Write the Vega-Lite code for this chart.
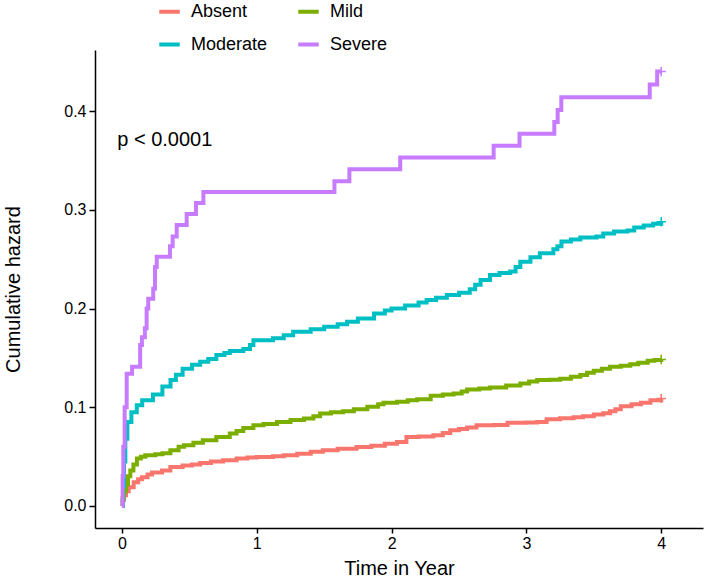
{
  "$schema": "https://vega.github.io/schema/vega-lite/v6.json",
  "width": 608,
  "height": 478,
  "autosize": "none",
  "padding": {"left": 95, "top": 50, "right": 5, "bottom": 55},
  "background": "white",
  "config": {
    "view": {"stroke": null},
    "font": "Liberation Sans",
    "axis": {"grid": false, "domainColor": "black", "domainWidth": 1.5, "tickColor": "black", "tickWidth": 1.5, "tickSize": 6, "labelColor": "black", "labelFontSize": 16, "titleFontSize": 20, "titleFontWeight": "normal", "titleColor": "black", "labelFont": "Liberation Sans", "titleFont": "Liberation Sans"}
  },
  "datasets": {
    "curves": [
      {"group":"Absent","time":0,"hazard":0},{"group":"Absent","time":0.005,"hazard":0.006},{"group":"Absent","time":0.015,"hazard":0.011},{"group":"Absent","time":0.03,"hazard":0.015},{"group":"Absent","time":0.05,"hazard":0.019},{"group":"Absent","time":0.087,"hazard":0.024},{"group":"Absent","time":0.12,"hazard":0.027},{"group":"Absent","time":0.148,"hazard":0.029},{"group":"Absent","time":0.19,"hazard":0.032},{"group":"Absent","time":0.223,"hazard":0.034},{"group":"Absent","time":0.297,"hazard":0.036},{"group":"Absent","time":0.359,"hazard":0.0396},{"group":"Absent","time":0.45,"hazard":0.041},{"group":"Absent","time":0.52,"hazard":0.042},{"group":"Absent","time":0.58,"hazard":0.0436},{"group":"Absent","time":0.66,"hazard":0.045},{"group":"Absent","time":0.75,"hazard":0.0463},{"group":"Absent","time":0.85,"hazard":0.048},{"group":"Absent","time":0.93,"hazard":0.049},{"group":"Absent","time":1.0,"hazard":0.0495},{"group":"Absent","time":1.12,"hazard":0.0504},{"group":"Absent","time":1.2,"hazard":0.0515},{"group":"Absent","time":1.3,"hazard":0.053},{"group":"Absent","time":1.4,"hazard":0.055},{"group":"Absent","time":1.49,"hazard":0.0565},{"group":"Absent","time":1.6,"hazard":0.058},{"group":"Absent","time":1.74,"hazard":0.0598},{"group":"Absent","time":1.85,"hazard":0.061},{"group":"Absent","time":1.95,"hazard":0.063},{"group":"Absent","time":2.04,"hazard":0.0649},{"group":"Absent","time":2.11,"hazard":0.07},{"group":"Absent","time":2.2,"hazard":0.0705},{"group":"Absent","time":2.31,"hazard":0.0717},{"group":"Absent","time":2.38,"hazard":0.074},{"group":"Absent","time":2.435,"hazard":0.0768},{"group":"Absent","time":2.5,"hazard":0.078},{"group":"Absent","time":2.56,"hazard":0.0795},{"group":"Absent","time":2.63,"hazard":0.0818},{"group":"Absent","time":2.76,"hazard":0.082},{"group":"Absent","time":2.86,"hazard":0.0842},{"group":"Absent","time":3.0,"hazard":0.0845},{"group":"Absent","time":3.08,"hazard":0.085},{"group":"Absent","time":3.15,"hazard":0.0879},{"group":"Absent","time":3.25,"hazard":0.089},{"group":"Absent","time":3.35,"hazard":0.09},{"group":"Absent","time":3.42,"hazard":0.091},{"group":"Absent","time":3.5,"hazard":0.0927},{"group":"Absent","time":3.57,"hazard":0.094},{"group":"Absent","time":3.62,"hazard":0.096},{"group":"Absent","time":3.66,"hazard":0.098},{"group":"Absent","time":3.7,"hazard":0.101},{"group":"Absent","time":3.78,"hazard":0.103},{"group":"Absent","time":3.85,"hazard":0.1045},{"group":"Absent","time":3.92,"hazard":0.107},{"group":"Absent","time":4.0,"hazard":0.109},

      {"group":"Mild","time":0,"hazard":0},{"group":"Mild","time":0.005,"hazard":0.008},{"group":"Mild","time":0.015,"hazard":0.015},{"group":"Mild","time":0.03,"hazard":0.022},{"group":"Mild","time":0.045,"hazard":0.03},{"group":"Mild","time":0.062,"hazard":0.036},{"group":"Mild","time":0.085,"hazard":0.042},{"group":"Mild","time":0.111,"hazard":0.048},{"group":"Mild","time":0.14,"hazard":0.05},{"group":"Mild","time":0.173,"hazard":0.0514},{"group":"Mild","time":0.247,"hazard":0.0524},{"group":"Mild","time":0.3,"hazard":0.0535},{"group":"Mild","time":0.359,"hazard":0.0565},{"group":"Mild","time":0.42,"hazard":0.06},{"group":"Mild","time":0.46,"hazard":0.0616},{"group":"Mild","time":0.53,"hazard":0.064},{"group":"Mild","time":0.6,"hazard":0.0666},{"group":"Mild","time":0.7,"hazard":0.07},{"group":"Mild","time":0.8,"hazard":0.0734},{"group":"Mild","time":0.85,"hazard":0.076},{"group":"Mild","time":0.9,"hazard":0.079},{"group":"Mild","time":0.975,"hazard":0.0818},{"group":"Mild","time":1.05,"hazard":0.083},{"group":"Mild","time":1.15,"hazard":0.085},{"group":"Mild","time":1.25,"hazard":0.087},{"group":"Mild","time":1.35,"hazard":0.0886},{"group":"Mild","time":1.42,"hazard":0.091},{"group":"Mild","time":1.47,"hazard":0.0937},{"group":"Mild","time":1.55,"hazard":0.095},{"group":"Mild","time":1.64,"hazard":0.096},{"group":"Mild","time":1.72,"hazard":0.098},{"group":"Mild","time":1.82,"hazard":0.1004},{"group":"Mild","time":1.9,"hazard":0.103},{"group":"Mild","time":1.94,"hazard":0.1045},{"group":"Mild","time":2.04,"hazard":0.1055},{"group":"Mild","time":2.12,"hazard":0.107},{"group":"Mild","time":2.19,"hazard":0.1082},{"group":"Mild","time":2.29,"hazard":0.1116},{"group":"Mild","time":2.38,"hazard":0.113},{"group":"Mild","time":2.46,"hazard":0.114},{"group":"Mild","time":2.52,"hazard":0.116},{"group":"Mild","time":2.56,"hazard":0.118},{"group":"Mild","time":2.65,"hazard":0.119},{"group":"Mild","time":2.73,"hazard":0.12},{"group":"Mild","time":2.85,"hazard":0.122},{"group":"Mild","time":2.955,"hazard":0.124},{"group":"Mild","time":3.02,"hazard":0.126},{"group":"Mild","time":3.08,"hazard":0.1275},{"group":"Mild","time":3.17,"hazard":0.128},{"group":"Mild","time":3.25,"hazard":0.129},{"group":"Mild","time":3.33,"hazard":0.131},{"group":"Mild","time":3.4,"hazard":0.1326},{"group":"Mild","time":3.45,"hazard":0.135},{"group":"Mild","time":3.5,"hazard":0.137},{"group":"Mild","time":3.56,"hazard":0.139},{"group":"Mild","time":3.62,"hazard":0.141},{"group":"Mild","time":3.7,"hazard":0.142},{"group":"Mild","time":3.77,"hazard":0.1437},{"group":"Mild","time":3.83,"hazard":0.145},{"group":"Mild","time":3.9,"hazard":0.147},{"group":"Mild","time":3.95,"hazard":0.148},{"group":"Mild","time":4.0,"hazard":0.1485},

      {"group":"Moderate","time":0,"hazard":0},{"group":"Moderate","time":0.008,"hazard":0.02},{"group":"Moderate","time":0.015,"hazard":0.045},{"group":"Moderate","time":0.025,"hazard":0.068},{"group":"Moderate","time":0.04,"hazard":0.085},{"group":"Moderate","time":0.07,"hazard":0.095},{"group":"Moderate","time":0.11,"hazard":0.102},{"group":"Moderate","time":0.15,"hazard":0.107},{"group":"Moderate","time":0.23,"hazard":0.113},{"group":"Moderate","time":0.3,"hazard":0.121},{"group":"Moderate","time":0.36,"hazard":0.1275},{"group":"Moderate","time":0.4,"hazard":0.133},{"group":"Moderate","time":0.45,"hazard":0.139},{"group":"Moderate","time":0.52,"hazard":0.143},{"group":"Moderate","time":0.58,"hazard":0.146},{"group":"Moderate","time":0.64,"hazard":0.149},{"group":"Moderate","time":0.7,"hazard":0.153},{"group":"Moderate","time":0.76,"hazard":0.155},{"group":"Moderate","time":0.8,"hazard":0.157},{"group":"Moderate","time":0.9,"hazard":0.159},{"group":"Moderate","time":0.95,"hazard":0.163},{"group":"Moderate","time":0.975,"hazard":0.168},{"group":"Moderate","time":1.12,"hazard":0.17},{"group":"Moderate","time":1.2,"hazard":0.173},{"group":"Moderate","time":1.27,"hazard":0.1765},{"group":"Moderate","time":1.4,"hazard":0.179},{"group":"Moderate","time":1.5,"hazard":0.1815},{"group":"Moderate","time":1.6,"hazard":0.184},{"group":"Moderate","time":1.67,"hazard":0.1866},{"group":"Moderate","time":1.75,"hazard":0.19},{"group":"Moderate","time":1.87,"hazard":0.195},{"group":"Moderate","time":1.95,"hazard":0.198},{"group":"Moderate","time":2.0,"hazard":0.2},{"group":"Moderate","time":2.1,"hazard":0.203},{"group":"Moderate","time":2.2,"hazard":0.206},{"group":"Moderate","time":2.26,"hazard":0.2086},{"group":"Moderate","time":2.33,"hazard":0.211},{"group":"Moderate","time":2.41,"hazard":0.2137},{"group":"Moderate","time":2.5,"hazard":0.216},{"group":"Moderate","time":2.58,"hazard":0.2195},{"group":"Moderate","time":2.62,"hazard":0.224},{"group":"Moderate","time":2.66,"hazard":0.229},{"group":"Moderate","time":2.73,"hazard":0.234},{"group":"Moderate","time":2.8,"hazard":0.236},{"group":"Moderate","time":2.88,"hazard":0.2375},{"group":"Moderate","time":2.92,"hazard":0.242},{"group":"Moderate","time":2.955,"hazard":0.2475},{"group":"Moderate","time":3.03,"hazard":0.252},{"group":"Moderate","time":3.1,"hazard":0.256},{"group":"Moderate","time":3.2,"hazard":0.26},{"group":"Moderate","time":3.23,"hazard":0.263},{"group":"Moderate","time":3.26,"hazard":0.268},{"group":"Moderate","time":3.33,"hazard":0.27},{"group":"Moderate","time":3.4,"hazard":0.272},{"group":"Moderate","time":3.52,"hazard":0.273},{"group":"Moderate","time":3.57,"hazard":0.276},{"group":"Moderate","time":3.65,"hazard":0.278},{"group":"Moderate","time":3.75,"hazard":0.279},{"group":"Moderate","time":3.8,"hazard":0.282},{"group":"Moderate","time":3.87,"hazard":0.284},{"group":"Moderate","time":3.94,"hazard":0.286},{"group":"Moderate","time":4.0,"hazard":0.288},

      {"group":"Severe","time":0,"hazard":0},{"group":"Severe","time":0.005,"hazard":0.03},{"group":"Severe","time":0.01,"hazard":0.06},{"group":"Severe","time":0.02,"hazard":0.1},{"group":"Severe","time":0.035,"hazard":0.134},{"group":"Severe","time":0.075,"hazard":0.141},{"group":"Severe","time":0.135,"hazard":0.163},{"group":"Severe","time":0.148,"hazard":0.171},{"group":"Severe","time":0.17,"hazard":0.18},{"group":"Severe","time":0.183,"hazard":0.2},{"group":"Severe","time":0.195,"hazard":0.21},{"group":"Severe","time":0.232,"hazard":0.22},{"group":"Severe","time":0.245,"hazard":0.242},{"group":"Severe","time":0.258,"hazard":0.2525},{"group":"Severe","time":0.356,"hazard":0.263},{"group":"Severe","time":0.376,"hazard":0.273},{"group":"Severe","time":0.406,"hazard":0.2847},{"group":"Severe","time":0.48,"hazard":0.2958},{"group":"Severe","time":0.549,"hazard":0.307},{"group":"Severe","time":0.604,"hazard":0.318},{"group":"Severe","time":1.576,"hazard":0.329},{"group":"Severe","time":1.687,"hazard":0.341},{"group":"Severe","time":2.064,"hazard":0.353},{"group":"Severe","time":2.757,"hazard":0.365},{"group":"Severe","time":2.949,"hazard":0.377},{"group":"Severe","time":3.207,"hazard":0.389},{"group":"Severe","time":3.232,"hazard":0.401},{"group":"Severe","time":3.259,"hazard":0.414},{"group":"Severe","time":3.915,"hazard":0.427},{"group":"Severe","time":3.97,"hazard":0.44},{"group":"Severe","time":4.0,"hazard":0.44}
    ],
    "annot": [{"label": "p < 0.0001", "time": -0.035, "hazard": 0.3648}]
  },
  "layer": [
    {
      "data": {"name": "curves"},
      "mark": {"type": "line", "interpolate": "step-after", "strokeWidth": 4, "clip": false},
      "encoding": {
        "x": {"field": "time", "type": "quantitative", "scale": {"domain": [-0.2, 4.31], "nice": false, "zero": false}, "axis": {"values": [0, 1, 2, 3, 4], "format": "d", "title": "Time in Year", "tickSize": 5, "labelPadding": 2, "titlePadding": 7}},
        "y": {"field": "hazard", "type": "quantitative", "scale": {"domain": [-0.0223, 0.4619], "nice": false, "zero": false}, "axis": {"values": [0, 0.1, 0.2, 0.3, 0.4], "format": ".1f", "title": "Cumulative hazard", "tickSize": 6, "labelPadding": 3, "titlePadding": 40}},
        "color": {"field": "group", "type": "nominal", "scale": {"domain": ["Absent", "Moderate", "Mild", "Severe"], "range": ["#F8766D", "#00BFC4", "#7CAE00", "#C77CFF"]},
          "legend": {"title": null, "orient": "none", "legendX": 62, "legendY": -51, "columns": 2, "symbolType": "stroke", "symbolSize": 420, "symbolStrokeWidth": 4, "labelFontSize": 18, "labelColor": "black", "labelOffset": 9, "columnPadding": 22, "rowPadding": 11, "padding": 0, "labelFont": "Liberation Sans"}}
      }
    },
    {
      "data": {"name": "curves"},
      "transform": [{"filter": "datum.time >= 4"}],
      "mark": {"type": "point", "shape": "M-1,0L1,0M0,-1L0,1", "filled": false, "size": 90, "strokeWidth": 1.5, "opacity": 1},
      "encoding": {
        "x": {"field": "time", "type": "quantitative"},
        "y": {"field": "hazard", "type": "quantitative"},
        "color": {"field": "group", "type": "nominal", "legend": null}
      }
    },
    {
      "data": {"name": "annot"},
      "mark": {"type": "text", "align": "left", "baseline": "alphabetic", "fontSize": 20, "font": "Liberation Sans", "color": "black"},
      "encoding": {
        "x": {"field": "time", "type": "quantitative"},
        "y": {"field": "hazard", "type": "quantitative"},
        "text": {"field": "label"}
      }
    }
  ]
}
